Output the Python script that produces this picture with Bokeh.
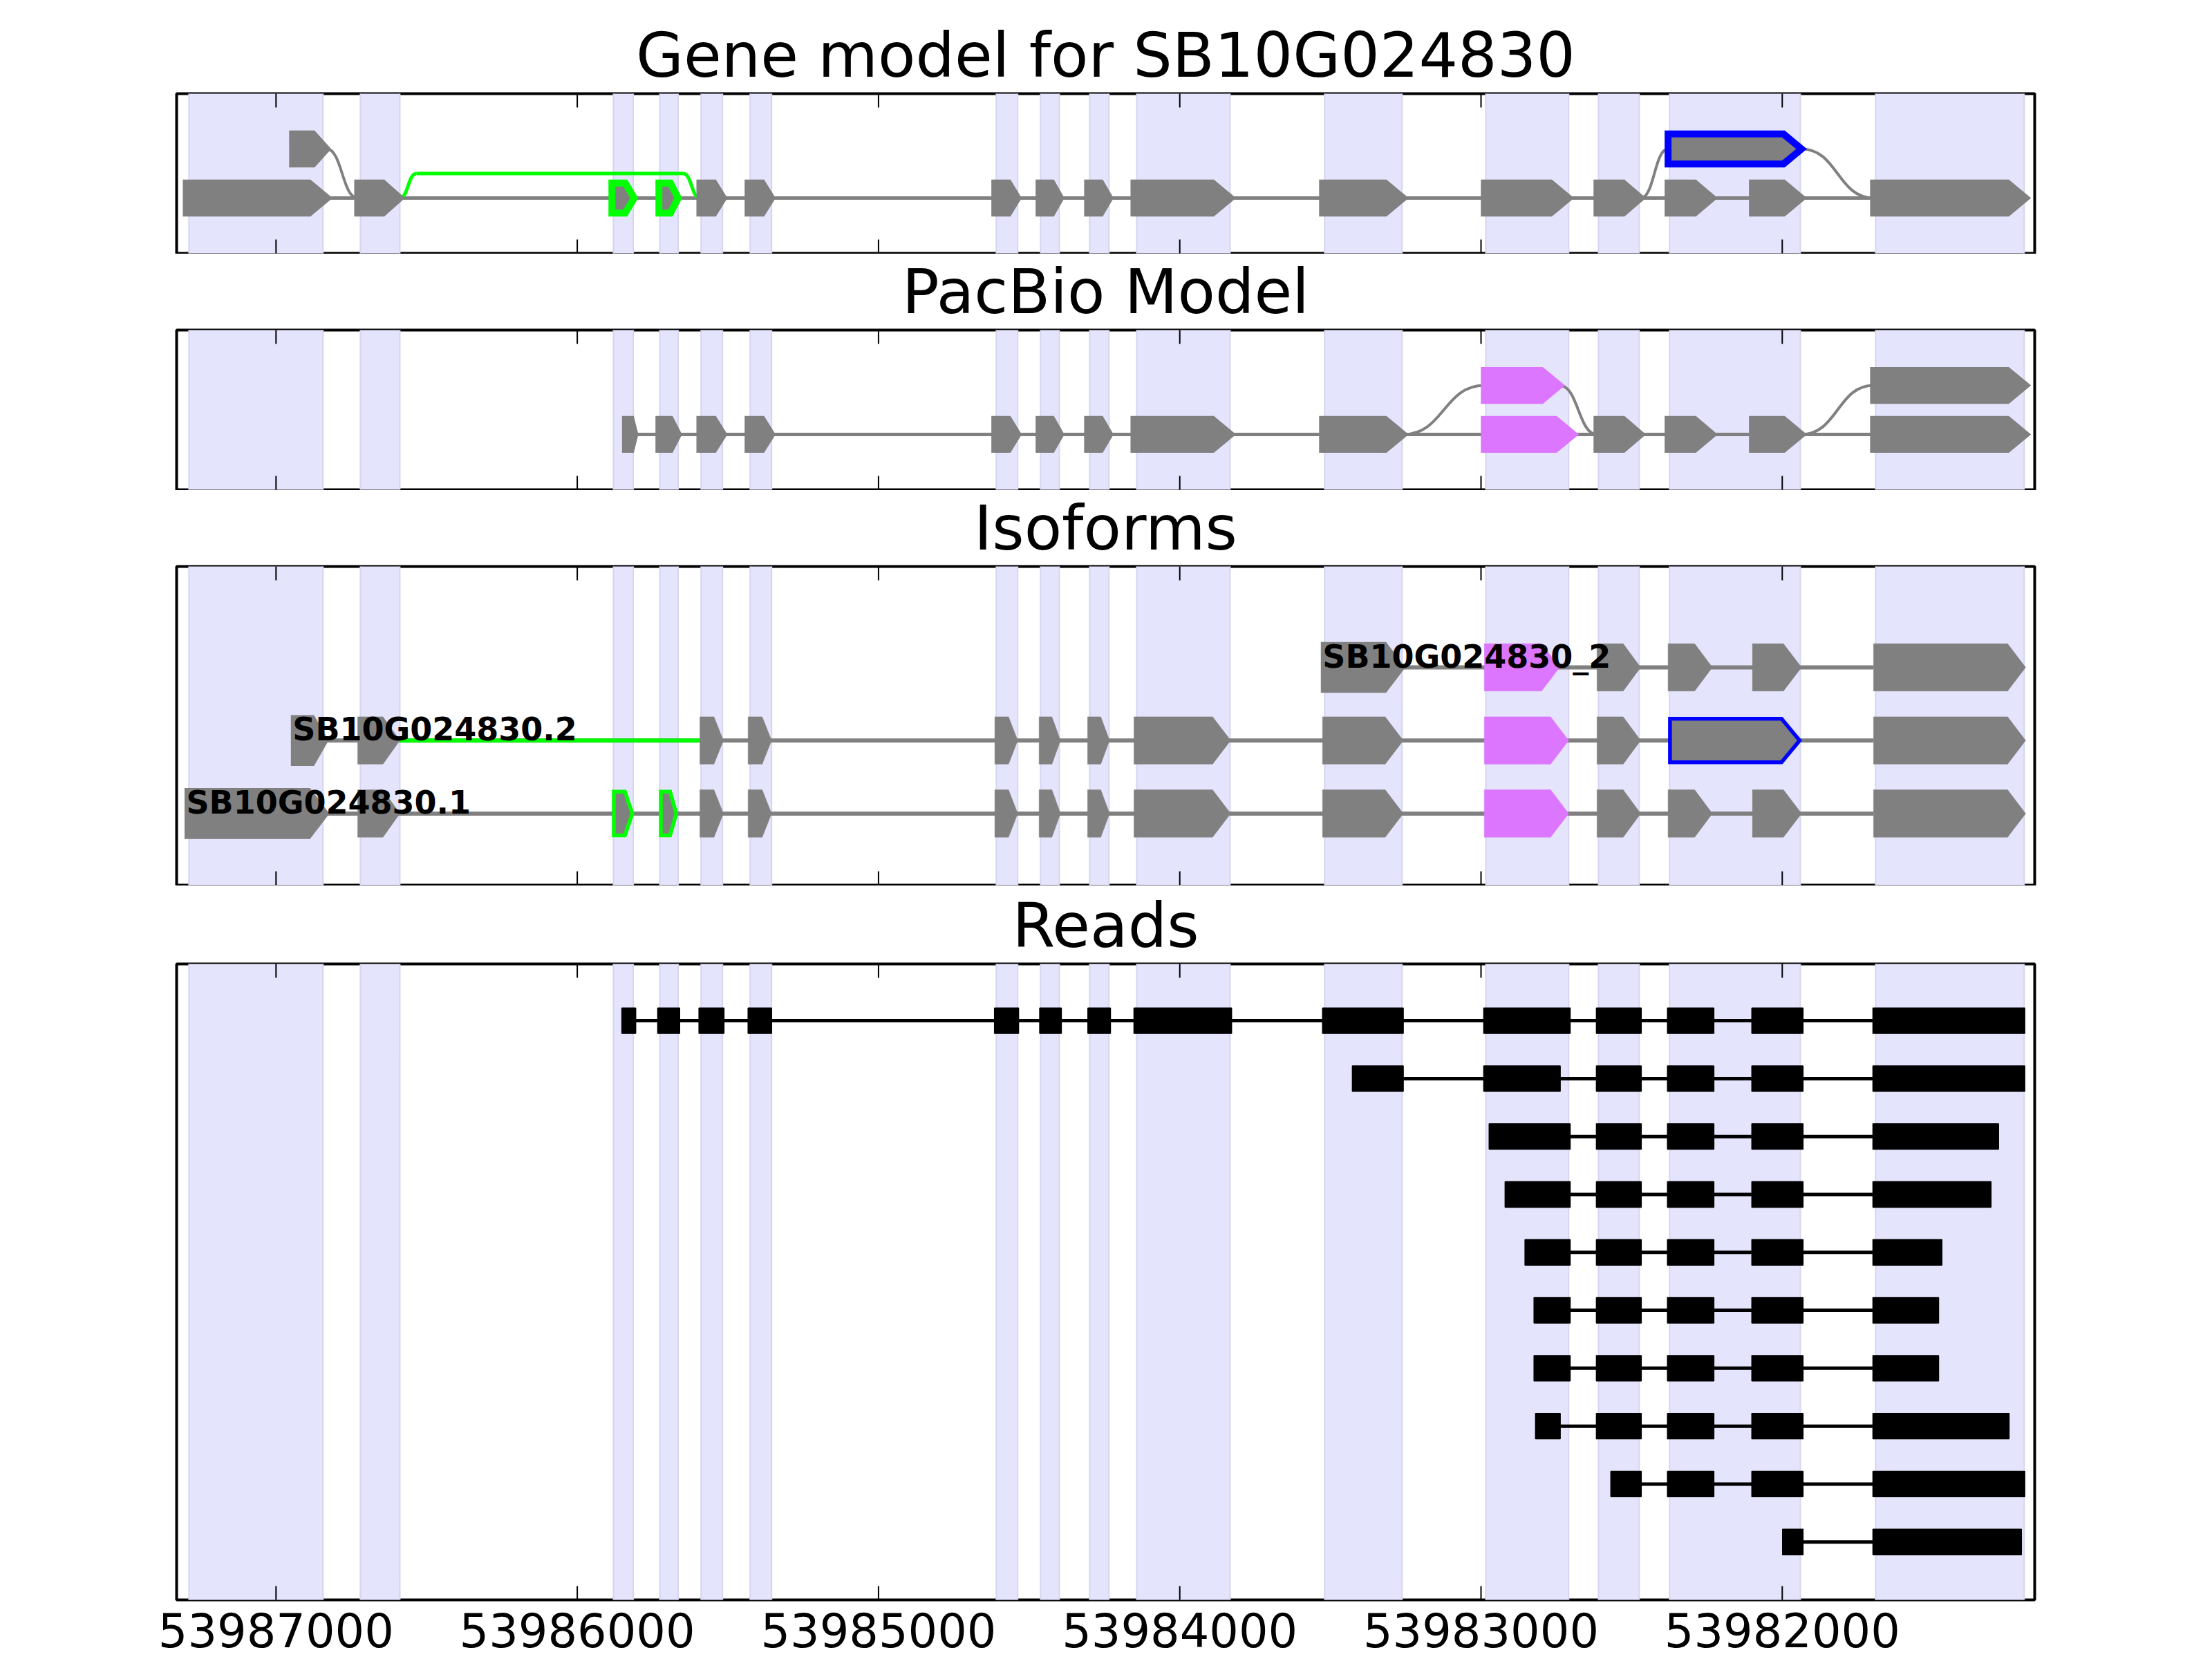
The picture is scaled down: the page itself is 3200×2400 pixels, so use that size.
from bokeh.plotting import figure
from bokeh.models import Range1d, ColumnDataSource, LinearAxis, FixedTicker
from bokeh.layouts import column
from bokeh.embed import file_html
from bokeh.resources import INLINE
from bokeh.core.properties import value

# ------------------------------------------------------------------ data
X_START, X_END = 53987330, 53981162
TICKS = [53987000, 53986000, 53985000, 53984000, 53983000, 53982000]
TICK_LABELS = ["53987000", "53986000", "53985000", "53984000", "53983000", "53982000"]
TITLES = ["Gene model for SB10G024830", "PacBio Model", "Isoforms", "Reads"]

# shaded exon regions (left, right) in genomic coordinates (axis is reversed)
BANDS = [(53987289, 53986844), (53986720, 53986589), (53985880, 53985814),
         (53985726, 53985665), (53985589, 53985518), (53985426, 53985355),
         (53984609, 53984538), (53984462, 53984400), (53984299, 53984235),
         (53984143, 53983833), (53983519, 53983262), (53982984, 53982709),
         (53982610, 53982475), (53982374, 53981940), (53981690, 53981197)]

# exons (left, right)
E1 = (53987298, 53986830)
E2 = (53986729, 53986589)
E3 = (53985885, 53985811)
E4 = (53985729, 53985665)
E5 = (53985593, 53985515)
E6 = (53985433, 53985355)
E7 = (53984614, 53984538)
E8 = (53984467, 53984396)
E9 = (53984306, 53984233)
E10 = (53984152, 53983831)
E11 = (53983526, 53983258)
E12 = (53982989, 53982709)
E13 = (53982615, 53982470)
E14 = (53982379, 53982232)
E15 = (53982099, 53981936)
E16 = (53981697, 53981192)
ALT1 = (53986945, 53986832)
RET = (53982379, 53981936)
P1 = (53985840, 53985809)
E12_LONG = (53982989, 53982693)
E12_SHORT = (53982989, 53982739)

# gene model panel
GENE_MAIN = [E1, E2, E3, E4, E5, E6, E7, E8, E9, E10, E11, E12, E13, E14, E15, E16]
GENE_MAIN_EDGE = ["gray", "gray", "lime", "lime"] + ["gray"] * 12
GENE_UPPER = [ALT1, RET]
GENE_UPPER_EDGE = ["gray", "blue"]
GENE_CURVES = [(ALT1[1], 1, E2[0], 0), (E13[1], 0, RET[0], 1), (RET[1], 1, E16[0], 0)]
GENE_SKIP = (E2[1], E5[0])

# PacBio panel
PB_MAIN = [P1, E4, E5, E6, E7, E8, E9, E10, E11, E12_LONG, E13, E14, E15, E16]
PB_MAIN_FILL = ["gray"] * 9 + ["magenta"] + ["gray"] * 4
PB_UPPER = [E12_SHORT, E16]
PB_UPPER_FILL = ["magenta", "gray"]
PB_CURVES = [(E11[1], 0, E12_SHORT[0], 1), (E12_SHORT[1], 1, E13[0], 0), (E15[1], 0, E16[0], 1)]

# isoforms panel (track 0 = bottom)
ISO_NAMES = ["SB10G024830.1", "SB10G024830.2", "SB10G024830_2"]
ISO_EXONS = [
    [E1, E2, E3, E4, E5, E6, E7, E8, E9, E10, E11, E12, E13, E14, E15, E16],
    [ALT1, E2, E5, E6, E7, E8, E9, E10, E11, E12, E13, RET, E16],
    [E11, E12_SHORT, E13, E14, E15, E16],
]
ISO_FILL = [
    ["gray"] * 11 + ["magenta"] + ["gray"] * 4,
    ["gray"] * 9 + ["magenta"] + ["gray"] * 3,
    ["gray", "magenta"] + ["gray"] * 4,
]
ISO_EDGE = [
    ["gray", None, "lime", "lime"] + [None] * 12,
    ["gray"] + [None] * 10 + ["blue", None],
    ["gray"] + [None] * 5,
]
ISO_SKIP = [None, (E2[1], E5[0]), None]

# reads panel (top to bottom)
READS = [
    [(53985852, 53985806), (53985733, 53985660), (53985596, 53985513), (53985433, 53985355),
     (53984615, 53984535), (53984465, 53984393), (53984305, 53984230), (53984152, 53983828),
     (53983526, 53983258), (53982991, 53982704), (53982617, 53982468), (53982381, 53982227),
     (53982101, 53981931), (53981699, 53981195)],
    [(53983427, 53983258), (53982991, 53982737), (53982617, 53982468), (53982381, 53982227),
     (53982101, 53981931), (53981699, 53981195)],
    [(53982973, 53982704), (53982617, 53982468), (53982381, 53982227), (53982101, 53981931),
     (53981699, 53981282)],
    [(53982920, 53982704), (53982617, 53982468), (53982381, 53982227), (53982101, 53981931),
     (53981699, 53981307)],
    [(53982854, 53982704), (53982617, 53982468), (53982381, 53982227), (53982101, 53981931),
     (53981699, 53981470)],
    [(53982824, 53982704), (53982617, 53982468), (53982381, 53982227), (53982101, 53981931),
     (53981699, 53981481)],
    [(53982824, 53982704), (53982617, 53982468), (53982381, 53982227), (53982101, 53981931),
     (53981699, 53981481)],
    [(53982819, 53982737), (53982617, 53982468), (53982381, 53982227), (53982101, 53981931),
     (53981699, 53981247)],
    [(53982569, 53982468), (53982381, 53982227), (53982101, 53981931), (53981699, 53981195)],
    [(53981999, 53981931), (53981699, 53981206)],
]

# ------------------------------------------------------------------ style
PALETTE = {"gray": "#808080", "magenta": "#dc76ff", "lime": "#00ff00", "blue": "#0000ff"}
BAND_FILL, BAND_EDGE = "#e4e4fd", "#d5d5ef"
FONT = "DejaVu Sans"
FRAME_W = 2688
PX_PER_BP = FRAME_W / (X_START - X_END)
TIP_FRAC, TIP_MAX = 0.4, 60
SKIP_RISE = 55
TICK_LEN = 20        # px, ticks point inward
TITLE_GAP = 4        # px, extra room between frame and title


def arrow(ex, yc, h, inset_px=0.0, unit_px=1.0):
    l, r = ex
    d = inset_px / PX_PER_BP
    l, r = l - d, r + d
    hh = h - inset_px / unit_px
    tip = min(TIP_FRAC * (l - r), TIP_MAX)
    return [l, r + tip, r, r + tip, l], [yc - hh, yc - hh, yc, yc + hh, yc + hh]


def make_fig(title, yr, fh, top, bottom):
    U = fh / (yr[1] - yr[0])
    p = figure(frame_width=FRAME_W, frame_height=fh,
               x_range=Range1d(X_START, X_END), y_range=Range1d(*yr),
               x_axis_location=None, y_axis_location=None,
               toolbar_location=None, output_backend="svg",
               min_border_left=255, min_border_right=257,
               min_border_top=top, min_border_bottom=bottom, title=title)
    p.title.align = "center"
    p.title.text_font = FONT
    p.title.text_font_size = "89px"
    p.title.text_font_style = "normal"
    p.title.text_color = "black"
    p.title.standoff = 0
    p.outline_line_color = "black"
    p.outline_line_width = 4
    p.grid.visible = False
    # an unlabeled axis above the frame only keeps a small gap under the title
    gap = LinearAxis(ticker=FixedTicker(ticks=TICKS),
                     major_label_overrides={t: "" for t in TICKS})
    gap.axis_line_color = None
    gap.major_tick_line_color = None
    gap.minor_tick_line_color = None
    gap.major_tick_in = 0
    gap.major_tick_out = TITLE_GAP
    gap.minor_tick_out = 0
    gap.major_label_standoff = 0
    p.add_layout(gap, "above")
    # shaded exon bands
    p.quad(left=[b[0] for b in BANDS], right=[b[1] for b in BANDS],
           bottom=yr[0] - 1, top=yr[1] + 1,
           fill_color=BAND_FILL, line_color=BAND_EDGE, line_width=2)
    # inward ticks on top and bottom edges
    tl = TICK_LEN / U
    p.segment(x0=TICKS + TICKS, x1=TICKS + TICKS,
              y0=[yr[0]] * len(TICKS) + [yr[1]] * len(TICKS),
              y1=[yr[0] + tl] * len(TICKS) + [yr[1] - tl] * len(TICKS),
              line_color="black", line_width=2, level="overlay")
    return p, U


def curves(p, lst, lw):
    x0 = [c[0] for c in lst]; y0 = [c[1] for c in lst]
    x1 = [c[2] for c in lst]; y1 = [c[3] for c in lst]
    xm = [(a + b) / 2 for a, b in zip(x0, x1)]
    p.bezier(x0=x0, y0=y0, x1=x1, y1=y1, cx0=xm, cy0=y0, cx1=xm, cy1=y1,
             line_color=PALETTE["gray"], line_width=lw)


def exons(p, lst, yc, h, fills, edges, lws, insets, unit_px):
    xs, ys = [], []
    for ex, ins in zip(lst, insets):
        a, b = arrow(ex, yc, h, ins, unit_px)
        xs.append(a); ys.append(b)
    src = ColumnDataSource(dict(xs=xs, ys=ys, fc=[PALETTE[f] for f in fills],
                                lc=[PALETTE[e] for e in edges], lw=lws))
    p.patches("xs", "ys", source=src, fill_color="fc", line_color="lc",
              line_width="lw", line_join="miter")


# ------------------------------------------------------------------ panel 1
YR1 = (-1.127, 2.127)
H12 = 0.305
p1, U1 = make_fig(TITLES[0], YR1, 231, 135, 1)
p1.segment(x0=[GENE_MAIN[0][1]], y0=[0], x1=[GENE_MAIN[-1][0]], y1=[0],
           line_color=PALETTE["gray"], line_width=5)
curves(p1, GENE_CURVES, 4)
s0, s1 = GENE_SKIP
p1.bezier(x0=[s0, s1 + SKIP_RISE], y0=[0, 0.5], x1=[s0 - SKIP_RISE, s1], y1=[0.5, 0],
          cx0=[s0 - SKIP_RISE / 2, s1 + SKIP_RISE / 2], cy0=[0, 0.5],
          cx1=[s0 - SKIP_RISE / 2, s1 + SKIP_RISE / 2], cy1=[0.5, 0],
          line_color=PALETTE["lime"], line_width=5)
p1.segment(x0=[s0 - SKIP_RISE], y0=[0.5], x1=[s1 + SKIP_RISE], y1=[0.5],
           line_color=PALETTE["lime"], line_width=5)
exons(p1, GENE_MAIN, 0, H12, ["gray"] * len(GENE_MAIN), GENE_MAIN_EDGE,
      [10] * len(GENE_MAIN), [0] * len(GENE_MAIN), U1)
exons(p1, GENE_UPPER, 1, H12, ["gray"] * len(GENE_UPPER), GENE_UPPER_EDGE,
      [10] * len(GENE_UPPER), [0] * len(GENE_UPPER), U1)

# ------------------------------------------------------------------ panel 2
YR2 = (-1.13, 2.13)
p2, U2 = make_fig(TITLES[1], YR2, 231, 110, 1)
p2.segment(x0=[PB_MAIN[0][1]], y0=[0], x1=[PB_MAIN[-1][0]], y1=[0],
           line_color=PALETTE["gray"], line_width=5)
curves(p2, PB_CURVES, 4)
exons(p2, PB_MAIN, 0, H12, PB_MAIN_FILL, PB_MAIN_FILL, [10] * len(PB_MAIN), [0] * len(PB_MAIN), U2)
exons(p2, PB_UPPER, 1, H12, PB_UPPER_FILL, PB_UPPER_FILL, [10] * len(PB_UPPER), [0] * len(PB_UPPER), U2)

# ------------------------------------------------------------------ panel 3
YR3 = (-0.98, 3.38)
H3 = 0.324
p3, U3 = make_fig(TITLES[2], YR3, 461, 110, 1)
for k, (name, exs, fills, edges, skip) in enumerate(zip(ISO_NAMES, ISO_EXONS, ISO_FILL, ISO_EDGE, ISO_SKIP)):
    p3.segment(x0=[exs[0][1]], y0=[k], x1=[exs[-1][0]], y1=[k],
               line_color=PALETTE["gray"], line_width=6)
    if skip is not None:
        p3.segment(x0=[skip[0]], y0=[k], x1=[skip[1]], y1=[k],
                   line_color=PALETTE["lime"], line_width=6)
    lc, lws, ins = [], [], []
    for f, e in zip(fills, edges):
        if e is None:
            lc.append(f); lws.append(0.5); ins.append(0)
        elif e == "gray":
            lc.append(e); lws.append(5); ins.append(0)
        else:
            lc.append(e); lws.append(5.5); ins.append(2.75)
    exons(p3, exs, k, H3, fills, lc, lws, ins, U3)
    p3.text(x=[exs[0][0]], y=[k + 0.15], text=[name], text_font=value(FONT),
            text_font_style="bold", text_font_size="46px", text_color="black",
            text_baseline="alphabetic", text_align="left")

# ------------------------------------------------------------------ panel 4
YR4 = (-10.0, 0.98)
HR = 0.22
p4, U4 = make_fig(TITLES[3], YR4, 920, 113, 86)
for i, rd in enumerate(READS):
    y = -i
    p4.segment(x0=[rd[0][1]], y0=[y], x1=[rd[-1][0]], y1=[y], line_color="black", line_width=5)
    p4.quad(left=[b[0] for b in rd], right=[b[1] for b in rd], bottom=y - HR, top=y + HR,
            fill_color="black", line_color="black", line_width=1.5)
xax = LinearAxis(ticker=FixedTicker(ticks=TICKS),
                 major_label_overrides={t: s for t, s in zip(TICKS, TICK_LABELS)})
xax.axis_line_color = None
xax.major_tick_line_color = None
xax.minor_tick_line_color = None
xax.major_tick_in = 0
xax.major_tick_out = 0
xax.major_label_standoff = 18
xax.major_label_text_font = FONT
xax.major_label_text_font_size = "67px"
xax.major_label_text_color = "black"
p4.add_layout(xax, "below")

layout = column(p1, p2, p3, p4)
open("out.html", "w").write(file_html(layout, INLINE, title="Gene model for SB10G024830"))
